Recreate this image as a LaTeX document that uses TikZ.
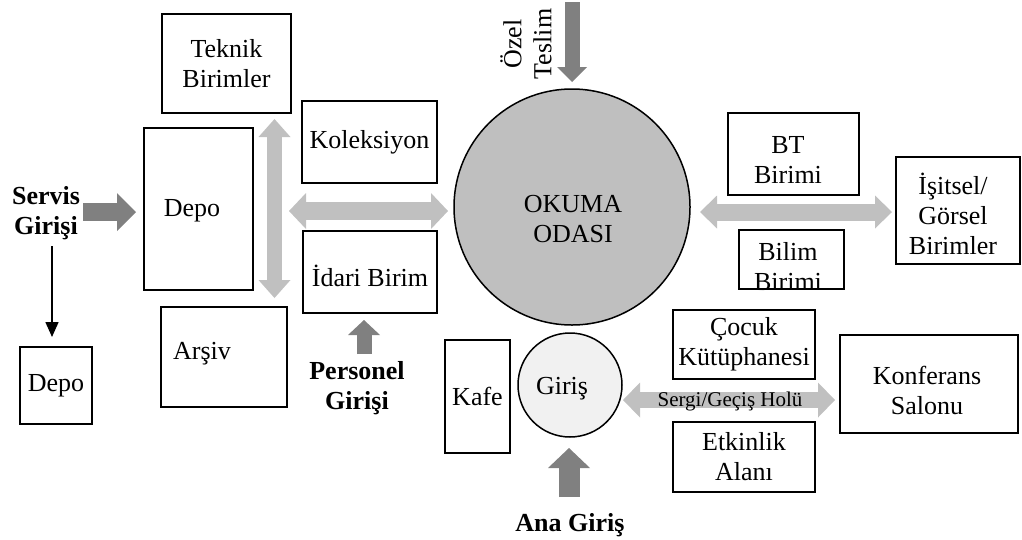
\documentclass[tikz,border=0pt]{standalone}
\usepackage{fontspec}
\setmainfont{Liberation Serif}
\usetikzlibrary{arrows.meta}
\definecolor{dgrey}{RGB}{128,128,128}
\definecolor{lgrey}{RGB}{192,192,192}
\definecolor{cgrey}{RGB}{191,191,191}
\definecolor{egrey}{RGB}{241,241,241}
\newcommand\myfs{\fontsize{26pt}{30pt}\selectfont}
\newcommand\mysfs{\fontsize{21pt}{24pt}\selectfont}
\tikzset{
  box/.style={draw, line width=1.5pt, inner sep=0pt, align=center, font=\myfs},
  txt/.style={inner sep=0pt, align=center, font=\myfs},
  btxt/.style={inner sep=0pt, align=center, font=\myfs\bfseries},
  dg/.style={draw=dgrey, line cap=butt},
  lg/.style={draw=lgrey, line cap=butt},
}
\begin{document}
\begin{tikzpicture}[x=1pt, y=-1pt]
\useasboundingbox (0,0) rectangle (1022,539);

% boxes
\node[box, minimum width=129pt, minimum height=99pt] (teknik) at (226.5,63.5) {Teknik\\Birimler};
\node[box, minimum width=109pt, minimum height=162pt] (depo) at (198.5,209) {};
\node[txt] (depotxt) at (192,211) {Depo};
\node[box, minimum width=135pt, minimum height=82pt] (kol) at (369.5,142) {Koleksiyon};
\node[box, minimum width=134pt, minimum height=82pt] (idari) at (370,272) {};
\node[txt] (idaritxt) at (370,276) {İdari Birim};
\node[box, minimum width=126pt, minimum height=100pt] (arsiv) at (224,357) {};
\node[txt] (arsivtxt) at (202,354) {Arşiv};
\node[box, minimum width=72pt, minimum height=77pt] (depo2) at (56,385.5) {Depo};
\node[box, minimum width=65pt, minimum height=113pt] (kafe) at (477.5,396.5) {Kafe};

% circles
\node[draw, line width=1.5pt, fill=cgrey, circle, minimum size=236pt, inner sep=0pt] (okuma) at (572,207) {};
\node[txt] (okumatxt) at (573,219) {OKUMA\\ODASI};
\node[draw, line width=1.5pt, fill=egrey, circle, minimum size=104pt, inner sep=0pt] (giris) at (570,385) {};
\node[txt] (giristxt) at (562,389) {Giriş};

% right side boxes
\node[box, minimum width=131pt, minimum height=82pt] (bt) at (793.5,154) {};
\node[txt] (bttxt) at (788,160) {BT\\Birimi};
\node[box, minimum width=105pt, minimum height=59pt] (bilim) at (791.5,259.5) {};
\node[txt] (bilimtxt) at (788,267) {Bilim\\Birimi};
\node[box, minimum width=124pt, minimum height=107pt] (isitsel) at (958,210.5) {};
\node[txt] (isitseltxt) at (953,214) {İşitsel/\\Görsel\\Birimler};
\node[box, minimum width=142pt, minimum height=69pt] (cocuk) at (744,344.5) {Çocuk\\Kütüphanesi};
\node[box, minimum width=142pt, minimum height=70pt] (etk) at (744,457) {Etkinlik\\Alanı};
\node[box, minimum width=178pt, minimum height=98pt] (konf) at (929,384) {};
\node[txt] (konftxt) at (927,390) {Konferans\\Salonu};

% labels
\node[btxt] (servis) at (46,213) {Servis\\Girişi};
\node[btxt] (personel) at (357,388) {Personel\\Girişi};
\node[btxt] (ana) at (570,525) {Ana Giriş};
\node[txt, rotate=90] (ozel) at (526,44) {Özel\\Teslim};

% arrow end coordinates
\coordinate (sv1) at (83,212);   \coordinate (sv2) at (136,212);
\coordinate (v1) at (274.5,119); \coordinate (v2) at (274.5,298);
\coordinate (h1) at (289,211);   \coordinate (h2) at (448,211);
\coordinate (p1) at (364,354);   \coordinate (p2) at (364,320);
\coordinate (o1) at (572,2);     \coordinate (o2) at (572,82);
\coordinate (r1) at (700,212);   \coordinate (r2) at (892,212);
\coordinate (s1) at (623,400);   \coordinate (s2) at (835,400);
\coordinate (a1) at (569,497);   \coordinate (a2) at (569,448);
\coordinate (b1) at (52,246);    \coordinate (b2) at (52,337);

% block arrows
\draw[dg, line width=18pt, -{Triangle[width=38pt,length=19pt,line width=0pt]}] (sv1) -- (sv2);
\draw[lg, line width=15pt, {Triangle[width=32pt,length=18pt,line width=0pt]}-{Triangle[width=32pt,length=18pt,line width=0pt]}] (v1) -- (v2);
\draw[lg, line width=18pt, {Triangle[width=36pt,length=17pt,line width=0pt]}-{Triangle[width=36pt,length=17pt,line width=0pt]}] (h1) -- (h2);
\draw[dg, line width=15pt, -{Triangle[width=32pt,length=15pt,line width=0pt]}] (p1) -- (p2);
\draw[dg, line width=15pt, -{Triangle[width=30pt,length=15pt,line width=0pt]}] (o1) -- (o2);
\draw[lg, line width=17pt, {Triangle[width=33pt,length=17pt,line width=0pt]}-{Triangle[width=33pt,length=17pt,line width=0pt]}] (r1) -- (r2);
\draw[lg, line width=16pt, {Triangle[width=35pt,length=17pt,line width=0pt]}-{Triangle[width=35pt,length=17pt,line width=0pt]}] (s1) -- (s2);
\draw[dg, line width=21pt, -{Triangle[width=42pt,length=20pt,line width=0pt]}] (a1) -- (a2);
\node[inner sep=0pt, font=\mysfs] (sergi) at (730,401) {Sergi/Geçiş Holü};

% black arrow
\draw[line width=1.6pt, -{Triangle[width=13pt,length=15pt]}] (b1) -- (b2);
\end{tikzpicture}
\end{document}
